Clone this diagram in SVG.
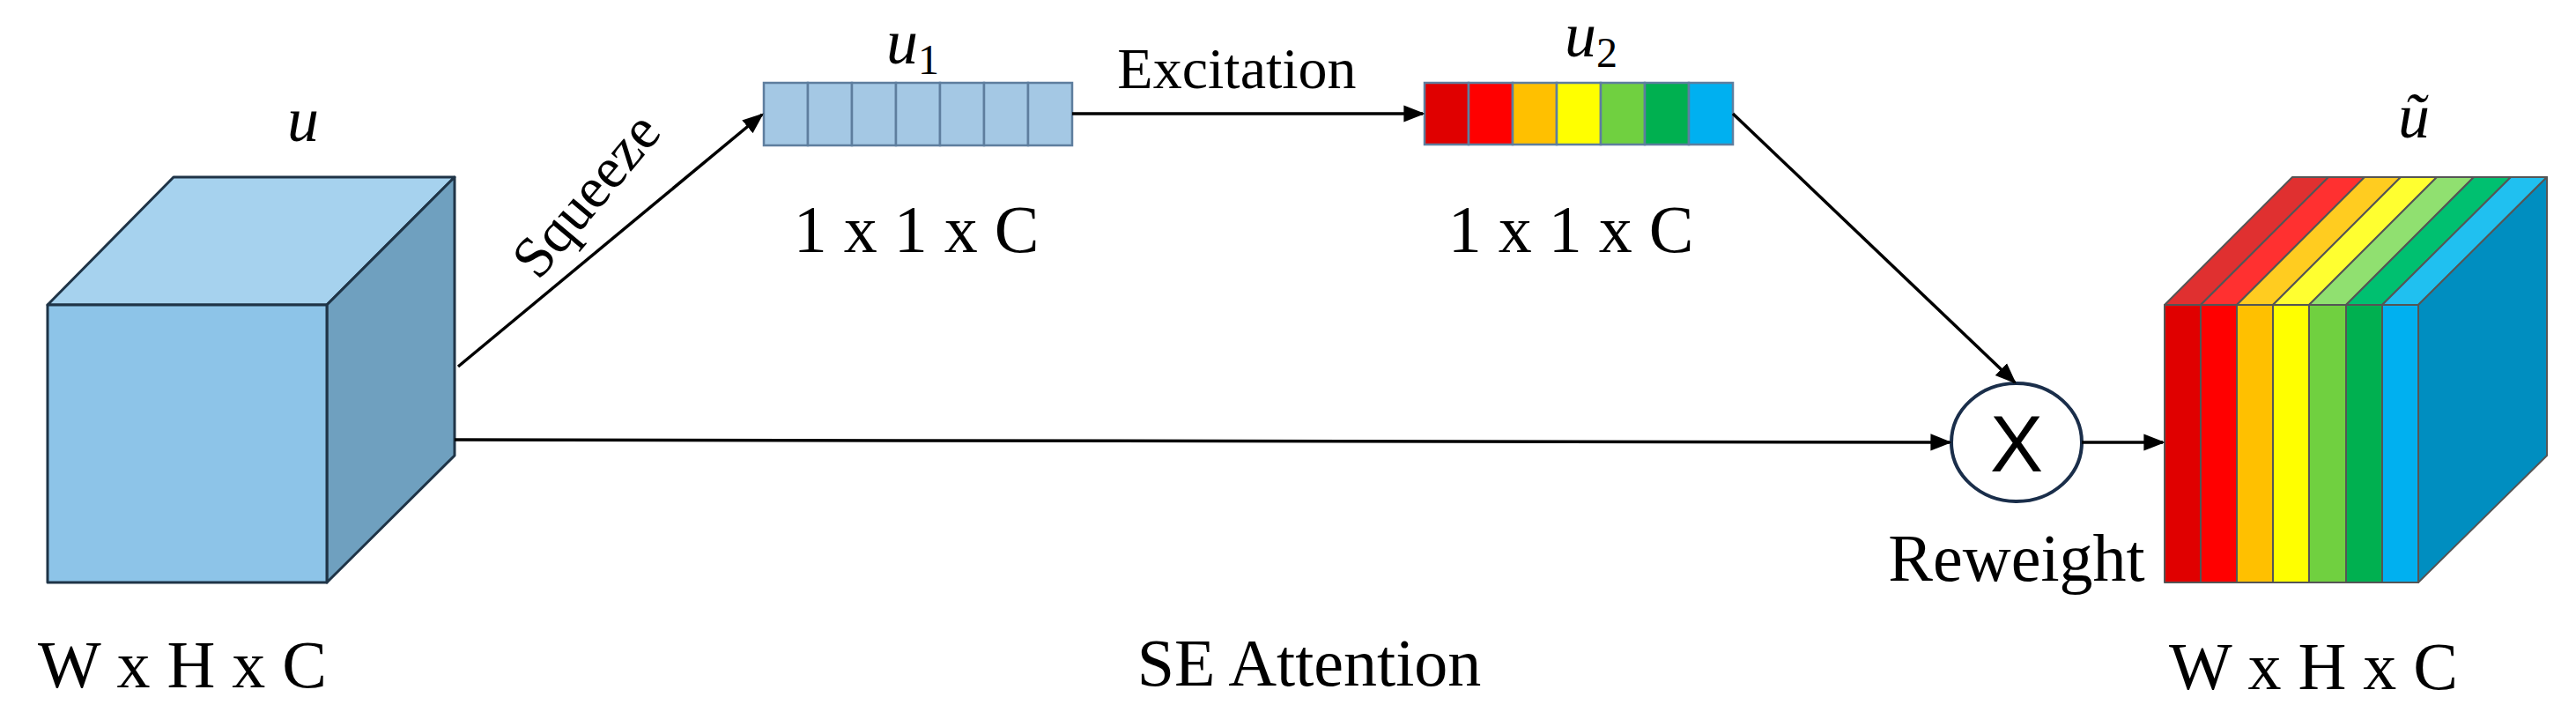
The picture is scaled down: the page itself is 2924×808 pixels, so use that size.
<svg xmlns="http://www.w3.org/2000/svg" width="2924" height="808" viewBox="0 0 2924 808">
<defs>
<marker id="a" viewBox="0 0 10 10" refX="9" refY="5" markerWidth="24" markerHeight="24" markerUnits="userSpaceOnUse" orient="auto"><path d="M0,1 L10,5 L0,9 z" fill="#000"/></marker>
<style>
text{font-family:"Liberation Serif","Times New Roman",serif;fill:#000;}
.lab{font-size:76px;text-anchor:middle;}
.math{font-size:72px;font-style:italic;text-anchor:middle;}
.sub{font-size:48px;font-style:normal;}
.line{stroke:#000;stroke-width:3.5;fill:none;}
.cell{stroke:#5E7E9E;stroke-width:2.5;}
</style>
</defs>
<rect width="2924" height="808" fill="#fff"/>
<g id="cube-u" stroke="#1F3447" stroke-width="3" stroke-linejoin="round">
<polygon points="54,346 197,201 516,201 371,346" fill="#A6D2EE"/>
<polygon points="371,346 516,201 516,517 371,661" fill="#6FA0BF"/>
<rect x="54" y="346" width="317" height="315" fill="#8DC4E8"/>
</g>
<text class="math" x="344" y="160">u</text>
<text class="lab" x="207" y="780">W x H x C</text>
<g id="u1">
<g fill="#A4C8E4" class="cell">
<rect x="867" y="94" width="50" height="71"/><rect x="917" y="94" width="50" height="71"/><rect x="967" y="94" width="50" height="71"/><rect x="1017" y="94" width="50" height="71"/><rect x="1067" y="94" width="50" height="71"/><rect x="1117" y="94" width="50" height="71"/><rect x="1167" y="94" width="50" height="71"/>
</g>
<text class="math" x="1036" y="72">u<tspan class="sub" dy="12">1</tspan></text>
<text class="lab" x="1040" y="286">1 x 1 x C</text>
</g>
<g id="u2" stroke="#5E7E9E" stroke-width="2.5">
<rect x="1617" y="94" width="50" height="70" fill="#E00000"/>
<rect x="1667" y="94" width="50" height="70" fill="#FF0000"/>
<rect x="1717" y="94" width="50" height="70" fill="#FFC000"/>
<rect x="1767" y="94" width="50" height="70" fill="#FFFF00"/>
<rect x="1817" y="94" width="50" height="70" fill="#70D040"/>
<rect x="1867" y="94" width="50" height="70" fill="#00B050"/>
<rect x="1917" y="94" width="50" height="70" fill="#00B0F0"/>
</g>
<text class="math" x="1806" y="64">u<tspan class="sub" dy="12">2</tspan></text>
<text class="lab" x="1783" y="286">1 x 1 x C</text>
<g id="mult">
<ellipse cx="2289" cy="502" rx="74" ry="67" fill="#fff" stroke="#1A2E4A" stroke-width="4"/>
<text x="2289" y="535" font-size="90" text-anchor="middle" style="font-family:'Liberation Sans',Arial,sans-serif">X</text>
<text class="lab" x="2289" y="659">Reweight</text>
</g>
<g id="cube-out" stroke="#555" stroke-width="2" stroke-linejoin="round">
<polygon points="2457,346 2602,201 2643,201 2498,346" fill="#E03030"/>
<polygon points="2498,346 2643,201 2684,201 2539,346" fill="#FF3030"/>
<polygon points="2539,346 2684,201 2725,201 2580,346" fill="#FFCC20"/>
<polygon points="2580,346 2725,201 2766,201 2621,346" fill="#FFFF30"/>
<polygon points="2621,346 2766,201 2808,201 2663,346" fill="#90E070"/>
<polygon points="2663,346 2808,201 2850,201 2704,346" fill="#00C070"/>
<polygon points="2704,346 2850,201 2891,201 2745,346" fill="#20C0F0"/>
<polygon points="2745,346 2891,201 2891,517 2745,661" fill="#008EC0"/>
<rect x="2457" y="346" width="41" height="315" fill="#E00000"/>
<rect x="2498" y="346" width="41" height="315" fill="#FF0000"/>
<rect x="2539" y="346" width="41" height="315" fill="#FFC000"/>
<rect x="2580" y="346" width="41" height="315" fill="#FFFF00"/>
<rect x="2621" y="346" width="42" height="315" fill="#70D040"/>
<rect x="2663" y="346" width="41" height="315" fill="#00B050"/>
<rect x="2704" y="346" width="41" height="315" fill="#00B0F0"/>
</g>
<text class="math" x="2740" y="156">ũ</text>
<text class="lab" x="2626" y="782">W x H x C</text>
<text class="lab" x="1486" y="778">SE Attention</text>
<g id="connectors">
<line class="line" x1="520" y1="416" x2="865" y2="130" marker-end="url(#a)"/>
<line class="line" x1="1217" y1="129" x2="1615" y2="129" marker-end="url(#a)"/>
<line class="line" x1="1967" y1="129" x2="2287" y2="434" marker-end="url(#a)"/>
<line class="line" x1="516" y1="499" x2="2213" y2="502" marker-end="url(#a)"/>
<line class="line" x1="2363" y1="502" x2="2455" y2="502" marker-end="url(#a)"/>
</g>
<text class="lab" x="672" y="240" transform="rotate(-50 672 227)" style="font-size:66px">Squeeze</text>
<text class="lab" x="1404" y="100" style="font-size:66px">Excitation</text>
</svg>
